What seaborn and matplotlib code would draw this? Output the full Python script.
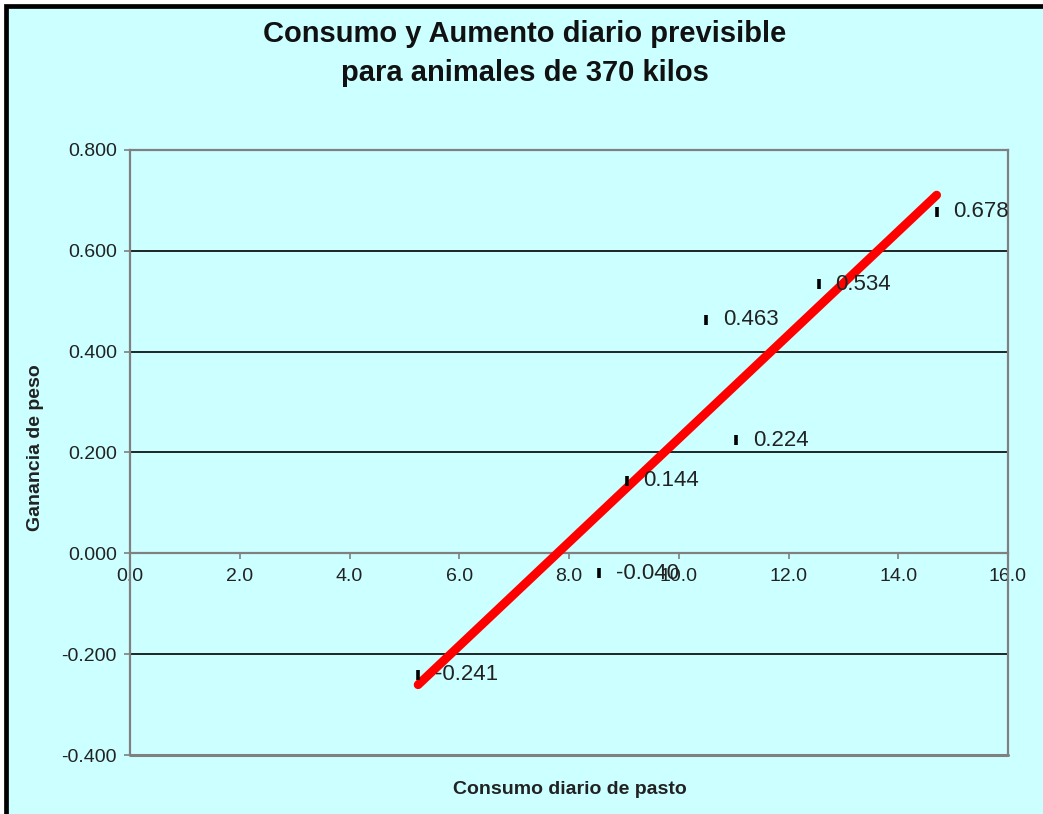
import matplotlib
matplotlib.use("Agg")
import matplotlib.pyplot as plt
from matplotlib.patches import Rectangle
from matplotlib.ticker import FuncFormatter, MultipleLocator
import seaborn as sns
import pandas as pd

# Daily pasture intake (kg) and expected daily weight gain (kg)
consumo = [5.25, 8.55, 9.05, 10.5, 11.05, 12.55, 14.7]
ganancia = [-0.241, -0.040, 0.144, 0.463, 0.224, 0.534, 0.678]
etiquetas = ["-0.241", "-0.040", "0.144", "0.463", "0.224", "0.534", "0.678"]

titulo_1 = "Consumo y Aumento diario previsible"
titulo_2 = "para animales de 370 kilos"
eje_x = "Consumo diario de pasto"
eje_y = "Ganancia de peso"

df = pd.DataFrame({"consumo": consumo, "ganancia": ganancia})

sns.set_theme(style="white")
plt.rcParams["font.family"] = ["Liberation Sans", "DejaVu Sans"]

FONDO = "#CCFFFF"
GRIS = "#808080"

W, H = 1043, 814
fig = plt.figure(figsize=(W / 100, H / 100), dpi=100, facecolor="white")

# Outer chart area with a black border on the left and top
fig.add_artist(Rectangle((6 / W, -0.1), 1.2, 1 - 6 / H + 0.1,
                         transform=fig.transFigure, facecolor=FONDO,
                         edgecolor="black", linewidth=3.4, zorder=0))

ax = fig.add_axes([130 / W, 1 - 755 / H, 878 / W, 605 / H])
ax.set_facecolor(FONDO)

# Linear trend line through the points
sns.regplot(data=df, x="consumo", y="ganancia", ax=ax, scatter=False,
            ci=None, truncate=True,
            line_kws=dict(color="#FF0000", linewidth=6.3,
                          solid_capstyle="round", zorder=4))

# Point markers (short vertical dashes)
sns.scatterplot(data=df, x="consumo", y="ganancia", ax=ax, marker="|",
                s=60, color="black", linewidth=2.6, zorder=5, legend=False)

for xv, yv, t in zip(consumo, ganancia, etiquetas):
    ax.annotate(t, (xv, yv), xytext=(12, 0), textcoords="offset points",
                ha="left", va="center", fontsize=16, color="#222222",
                zorder=6)

ax.set_xlim(0, 16)
ax.set_ylim(-0.4, 0.8)
ax.xaxis.set_major_locator(MultipleLocator(2))
ax.yaxis.set_major_locator(MultipleLocator(0.2))
ax.xaxis.set_major_formatter(FuncFormatter(lambda v, p: f"{v:.1f}"))
ax.yaxis.set_major_formatter(FuncFormatter(lambda v, p: f"{v:.3f}"))

ax.set_axisbelow(True)
ax.yaxis.grid(True, color="black", linewidth=1.2)
ax.xaxis.grid(False)

for s in ["left", "right", "top", "bottom"]:
    ax.spines[s].set_visible(True)
    ax.spines[s].set_color(GRIS)
    ax.spines[s].set_linewidth(1.6)
ax.spines["bottom"].set_position(("data", 0))
# Lower border of the plot area
ax.axhline(-0.4, color=GRIS, linewidth=2.2, zorder=3, clip_on=False)

ax.tick_params(axis="both", which="major", direction="out", length=4.5,
               width=1.2, color=GRIS, labelsize=14, labelcolor="#222222",
               bottom=True, left=True)
ax.tick_params(axis="x", pad=6)
ax.tick_params(axis="y", pad=5)
ax.set_xlabel("")
ax.set_ylabel("")

fig.text(0.503, 1 - 34 / H, titulo_1, ha="center", va="center",
         fontsize=21, fontweight="bold", color="#111111")
fig.text(0.503, 1 - 73 / H, titulo_2, ha="center", va="center",
         fontsize=21, fontweight="bold", color="#111111")
fig.text(570 / W, 1 - 790 / H, eje_x, ha="center", va="center",
         fontsize=14, fontweight="bold", color="#222222")
fig.text(36 / W, 1 - 448 / H, eje_y, ha="center", va="center",
         rotation=90, fontsize=14, fontweight="bold", color="#222222")

fig.savefig("out.png", dpi=100, facecolor="white")
